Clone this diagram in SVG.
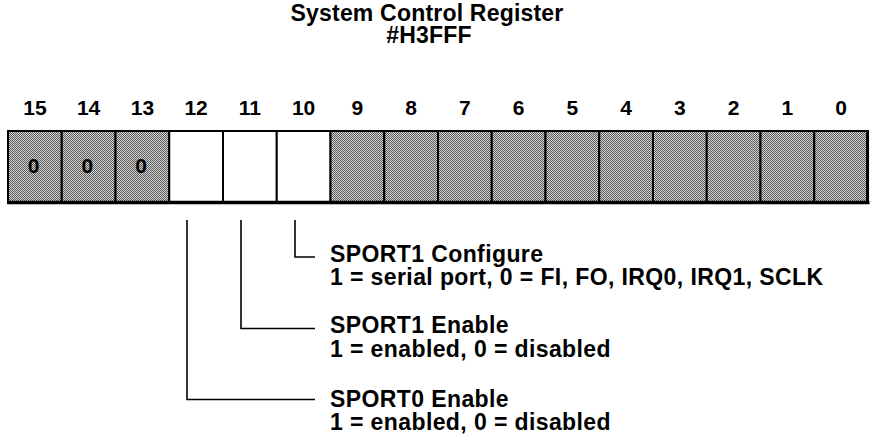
<svg xmlns="http://www.w3.org/2000/svg" width="875" height="440" viewBox="0 0 875 440">
<defs>
<pattern id="dither" width="2" height="2" patternUnits="userSpaceOnUse">
<rect width="2" height="2" fill="#d4d4d4"/>
<rect x="0" y="0" width="1" height="1" fill="#5a5a5a"/>
<rect x="1" y="1" width="1" height="1" fill="#5a5a5a"/>
</pattern>
</defs>
<style>
text{font-family:"Liberation Sans",Arial,Helvetica,sans-serif;font-weight:bold;fill:#000}
.title{font-size:23px;text-anchor:middle;letter-spacing:0.2px}
.bit{font-size:21px;text-anchor:middle}
.zero{font-size:21px;text-anchor:middle}
.lbl{font-size:23px;letter-spacing:0.4px}
.cell{stroke:#000;stroke-width:2}
.shade{fill:url(#dither)}
.clear{fill:#fff}
.conn{fill:none;stroke:#000;stroke-width:1.6}
</style>
<g id="title">
<text class="title" x="427" y="21">System Control Register</text>
<text class="title" x="429" y="43">#H3FFF</text>
</g>
<g id="bit-numbers">
<text class="bit" x="34.9" y="115">15</text>
<text class="bit" x="88.6" y="115">14</text>
<text class="bit" x="142.4" y="115">13</text>
<text class="bit" x="196.1" y="115">12</text>
<text class="bit" x="249.9" y="115">11</text>
<text class="bit" x="303.6" y="115">10</text>
<text class="bit" x="357.4" y="115">9</text>
<text class="bit" x="411.1" y="115">8</text>
<text class="bit" x="464.9" y="115">7</text>
<text class="bit" x="518.6" y="115">6</text>
<text class="bit" x="572.4" y="115">5</text>
<text class="bit" x="626.1" y="115">4</text>
<text class="bit" x="679.9" y="115">3</text>
<text class="bit" x="733.6" y="115">2</text>
<text class="bit" x="787.4" y="115">1</text>
<text class="bit" x="841.1" y="115">0</text>
</g>
<g id="register">
<rect class="cell shade" x="8" y="131" width="53.75" height="71"/>
<rect class="cell shade" x="61.75" y="131" width="53.75" height="71"/>
<rect class="cell shade" x="115.5" y="131" width="53.75" height="71"/>
<rect class="cell clear" x="169.25" y="131" width="53.75" height="71"/>
<rect class="cell clear" x="223" y="131" width="53.75" height="71"/>
<rect class="cell clear" x="276.75" y="131" width="53.75" height="71"/>
<rect class="cell shade" x="330.5" y="131" width="53.75" height="71"/>
<rect class="cell shade" x="384.25" y="131" width="53.75" height="71"/>
<rect class="cell shade" x="438" y="131" width="53.75" height="71"/>
<rect class="cell shade" x="491.75" y="131" width="53.75" height="71"/>
<rect class="cell shade" x="545.5" y="131" width="53.75" height="71"/>
<rect class="cell shade" x="599.25" y="131" width="53.75" height="71"/>
<rect class="cell shade" x="653" y="131" width="53.75" height="71"/>
<rect class="cell shade" x="706.75" y="131" width="53.75" height="71"/>
<rect class="cell shade" x="760.5" y="131" width="53.75" height="71"/>
<rect class="cell shade" x="814.25" y="131" width="53.75" height="71"/>
<line x1="7" y1="202.5" x2="869.5" y2="202.5" stroke="#000" stroke-width="3.5"/>
<line x1="867.5" y1="130" x2="867.5" y2="204" stroke="#000" stroke-width="3"/>
<text class="zero" x="33.5" y="173">0</text>
<text class="zero" x="87.3" y="173">0</text>
<text class="zero" x="141" y="173">0</text>
</g>
<g id="connectors">
<polyline class="conn" points="295,220 295,257 315,257"/>
<polyline class="conn" points="241,220 241,328.5 315,328.5"/>
<polyline class="conn" points="187,220 187,399.5 315,399.5"/>
</g>
<g id="sport1-configure">
<text class="lbl" x="330" y="262">SPORT1 Configure</text>
<text class="lbl" x="330" y="285">1 = serial port, 0 = FI, FO, IRQ0, IRQ1, SCLK</text>
</g>
<g id="sport1-enable">
<text class="lbl" x="330" y="333">SPORT1 Enable</text>
<text class="lbl" x="330" y="357">1 = enabled, 0 = disabled</text>
</g>
<g id="sport0-enable">
<text class="lbl" x="330" y="407">SPORT0 Enable</text>
<text class="lbl" x="330" y="430">1 = enabled, 0 = disabled</text>
</g>
</svg>
